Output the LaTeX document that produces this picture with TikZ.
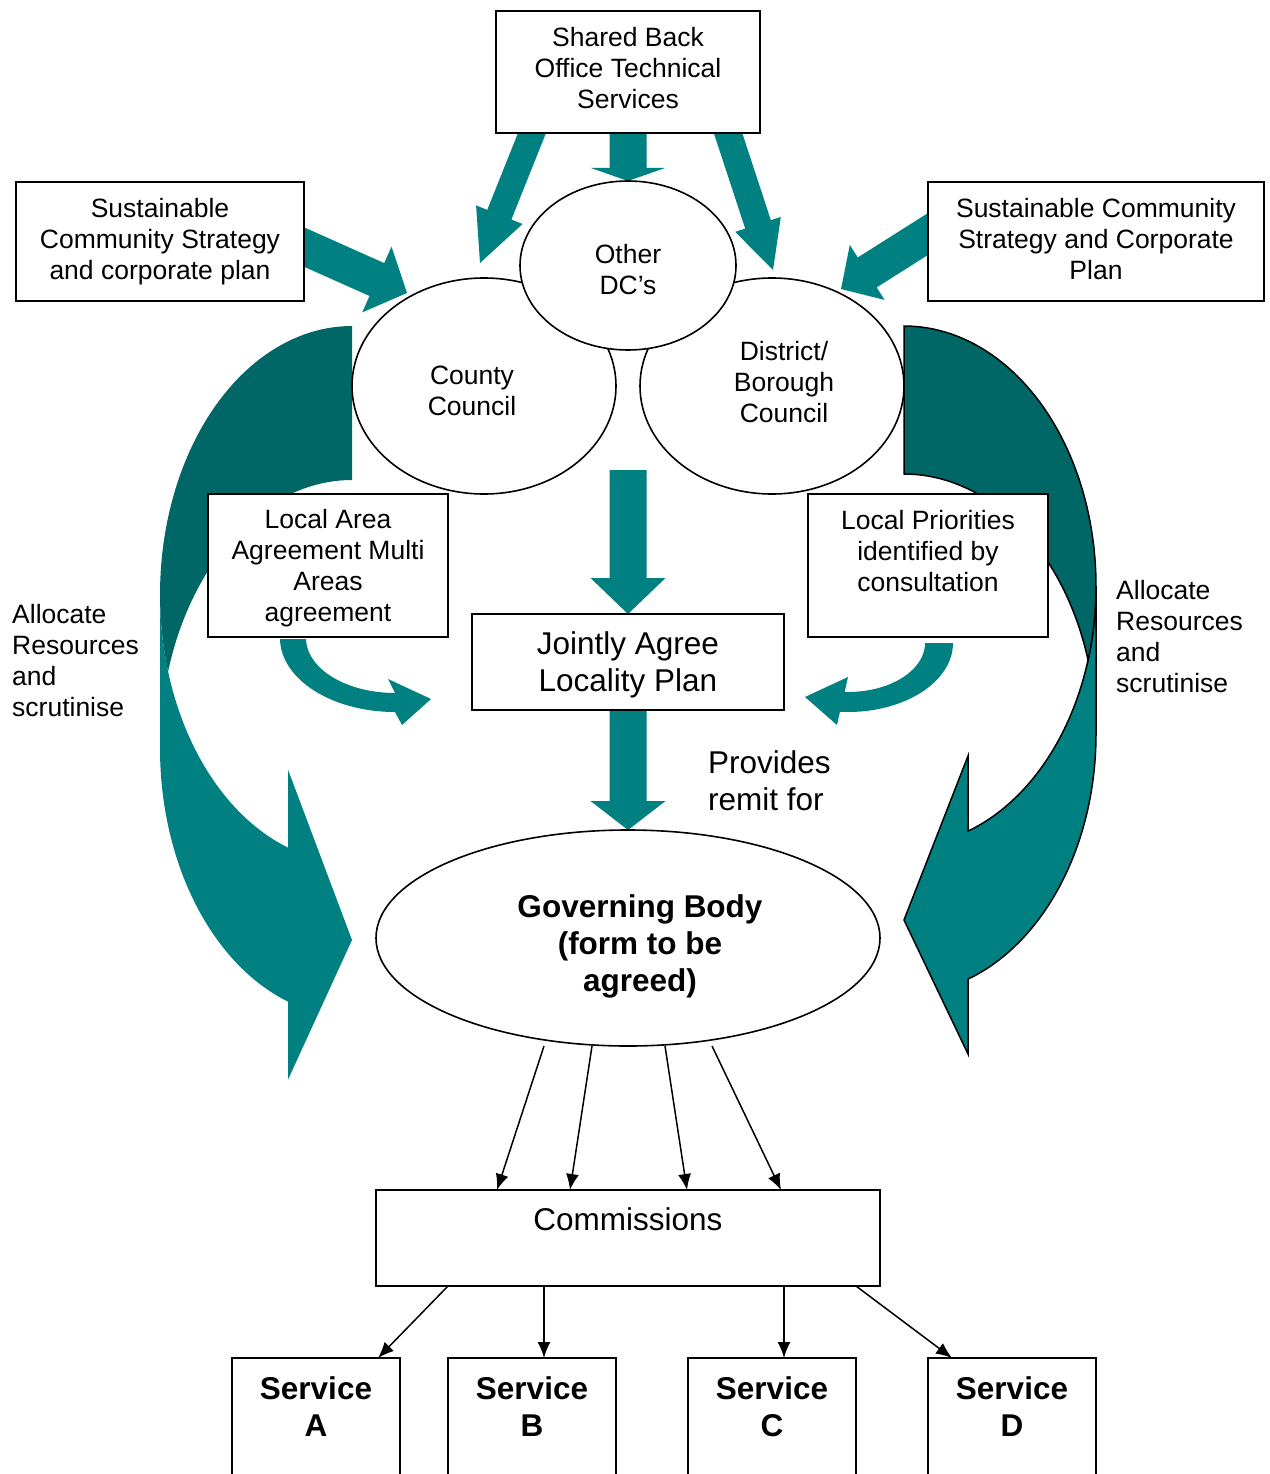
\documentclass[tikz,border=0pt]{standalone}
\usepackage{fontspec}
\setmainfont{Liberation Sans}
\usetikzlibrary{calc,arrows.meta,shapes.geometric}
\definecolor{tealA}{RGB}{0,128,128}
\definecolor{tealD}{RGB}{0,102,102}
\pgfdeclarelayer{bg}
\pgfsetlayers{bg,main}
% start, end, shaft half width, head half width, head length, back extension
\newcommand\blockarr[6]{%
  \coordinate (bas) at ($(#1)!-#6!(#2)$);
  \coordinate (bah) at ($(#2)!#5!(#1)$);
  \fill[tealA] ($(bas)!#3!90:(#2)$) -- ($(bah)!#3!90:(#2)$) -- ($(bah)!#4!90:(#2)$) -- (#2)
    -- ($(bah)!#4!-90:(#2)$) -- ($(bah)!#3!-90:(#2)$) -- ($(bas)!#3!-90:(#2)$) -- cycle;
}
\begin{document}
\begin{tikzpicture}[x=1pt,y=-1pt,
  box/.style={draw, line width=1.6pt, fill=white, inner sep=0pt, outer sep=0pt},
  ell/.style={draw, ellipse, line width=1.6pt, fill=white, inner sep=0pt, outer sep=0pt},
  txt/.style={align=center, inner sep=0pt, font=\fontsize{26.5}{31}\selectfont},
  txtL/.style={align=center, inner sep=0pt, font=\fontsize{31.5}{37}\selectfont},
  txtB/.style={align=center, inner sep=0pt, font=\fontsize{31.5}{37}\selectfont\bfseries},
  conn/.style={line width=1.5pt, -{Latex[length=16pt,width=13pt]}}]
\useasboundingbox (0,0) rectangle (1269,1474);

% ---------- nodes ----------
\node[box, minimum width=264pt, minimum height=122pt] (shared) at (628,72) {};
\node[txt] (sharedT) at (628,68) {Shared Back\\Office Technical\\Services};

\node[box, minimum width=288pt, minimum height=119pt] (scsL) at (160,241.5) {};
\node[txt] (scsLT) at (160,242) {Sustainable\\Community Strategy\\and corporate plan};

\node[box, minimum width=336pt, minimum height=119pt] (scsR) at (1096,241.5) {};
\node[txt] (scsRT) at (1096,239) {Sustainable Community\\Strategy and Corporate\\Plan};

\node[ell, minimum width=264pt, minimum height=216pt] (county) at (484,386) {};
\node[ell, minimum width=264pt, minimum height=216pt] (district) at (772,386) {};
\node[ell, minimum width=216pt, minimum height=169pt] (other) at (628,265.5) {};
\node[txt] (otherT) at (628,269.5) {Other\\DC’s};
\node[txt] (countyT) at (472,390.5) {County\\Council};
\node[txt] (districtT) at (784,382) {District/\\Borough\\Council};

\node[box, minimum width=240pt, minimum height=143pt] (laa) at (328,565.5) {};
\node[txt] (laaT) at (328,568.5) {Local Area\\Agreement Multi\\Areas\\agreement};

\node[box, minimum width=240pt, minimum height=143pt] (lp) at (928,565.5) {};
\node[txt] (lpT) at (928,551) {Local Priorities\\identified by\\consultation};

\node[box, minimum width=312pt, minimum height=96pt] (joint) at (628,662) {};
\node[txtL] (jointT) at (628,664.5) {Jointly Agree\\Locality Plan};

\node[ell, minimum width=504pt, minimum height=216pt] (gov) at (628,938) {};
\node[txtB] (govT) at (640,946.5) {Governing Body\\(form to be\\agreed)};

\node[txtL, align=left, anchor=west] (prov) at (708,780.5) {Provides\\remit for};
\node[txt, align=left, anchor=west] (allocL) at (12,661) {Allocate\\Resources\\and\\scrutinise};
\node[txt, align=left, anchor=west] (allocR) at (1116,637) {Allocate\\Resources\\and\\scrutinise};

\node[box, minimum width=504pt, minimum height=96pt] (comm) at (628,1238) {};
\node[txtL] (commT) at (628,1219) {Commissions};

\node[box, minimum width=168pt, minimum height=150pt, anchor=north] (sA) at (316,1358) {};
\node[box, minimum width=168pt, minimum height=150pt, anchor=north] (sB) at (532,1358) {};
\node[box, minimum width=168pt, minimum height=150pt, anchor=north] (sC) at (772,1358) {};
\node[box, minimum width=168pt, minimum height=150pt, anchor=north] (sD) at (1012,1358) {};
\node[txtB] (sAT) at (316,1406.5) {Service\\A};
\node[txtB] (sBT) at (532,1406.5) {Service\\B};
\node[txtB] (sCT) at (772,1406.5) {Service\\C};
\node[txtB] (sDT) at (1012,1406.5) {Service\\D};

% ---------- thin connectors ----------
\draw[conn] ($(gov.south)+(-84,0)$) -- ($(comm.north west)+(121,0)$);
\draw[conn] ($(gov.south)+(-36,0)$) -- ($(comm.north west)+(194,0)$);
\draw[conn] ($(gov.south)+(37,0)$) -- ($(comm.north west)+(311,0)$);
\draw[conn] ($(gov.south)+(84,0)$) -- ($(comm.north west)+(405,0)$);

\draw[conn] ($(comm.south west)+(72,0)$) -- ($(sA.north west)+(146,0)$);
\draw[conn] ($(comm.south west)+(168,0)$) -- ($(sB.north west)+(96,0)$);
\draw[conn] ($(comm.south west)+(408,0)$) -- ($(sC.north west)+(96,0)$);
\draw[conn] ($(comm.south west)+(480,0)$) -- ($(sD.north west)+(24,0)$);

% ---------- background shapes ----------
\begin{pgfonlayer}{bg}
% left big curved arrow (no outline)
\fill[tealA] (160,594.5)
  -- plot[domain=180:109.47,samples=60] ({352+192*cos(\x)},{594.5+268.5*sin(\x)})
  -- (288,769.6) -- (352,940) -- (288,1079.6) -- (288,1001.6)
  -- plot[domain=109.47:180,samples=60] ({352+192*cos(\x)},{748.5+268.5*sin(\x)})
  -- cycle;
\fill[tealD] (352,480)
  -- plot[domain=270:196.66,samples=60] ({352+192*cos(\x)},{748.5+268.5*sin(\x)})
  -- plot[domain=163.34:270,samples=60] ({352+192*cos(\x)},{594.5+268.5*sin(\x)})
  -- cycle;

% right big curved arrow (outlined)
\filldraw[fill=tealA, draw=black, line width=1.5pt] (1096,586)
  -- plot[domain=0:70.53,samples=60] ({904+192*cos(\x)},{586+260*sin(\x)})
  -- (968,756) -- (904,920) -- (968,1054) -- (968,979)
  -- plot[domain=70.53:0,samples=60] ({904+192*cos(\x)},{734+260*sin(\x)})
  -- cycle;
\filldraw[fill=tealD, draw=black, line width=1.5pt] (904,474)
  -- plot[domain=-90:-16.54,samples=60] ({904+192*cos(\x)},{734+260*sin(\x)})
  -- plot[domain=16.54:-90,samples=60] ({904+192*cos(\x)},{586+260*sin(\x)})
  -- cycle;

% small curved arrows
\fill[tealA] (280,639) -- (306,639)
  -- plot[domain=180:90,samples=40] ({395+89*cos(\x)},{638+55*sin(\x)})
  -- (388,679) -- (431,699) -- (402,725) -- (395,712)
  -- plot[domain=90:180,samples=40] ({395+115*cos(\x)},{638+74*sin(\x)})
  -- cycle;
\fill[tealA] (925,643) -- (953,643)
  -- plot[domain=0:94.4,samples=40] ({848+105*cos(\x)},{643+69*sin(\x)})
  -- (837,725) -- (805,697) -- (848,677)
  -- plot[domain=92.5:0,samples=40] ({848+77*cos(\x)},{643+49*sin(\x)})
  -- cycle;

% straight block arrows
\coordinate (d1s) at ($(shared.south west)+(36,0)$);
\coordinate (d1e) at (480,263);
\coordinate (d2s) at ($(shared.south east)+(-32,0)$);
\coordinate (d2e) at (773,270);
\coordinate (d3s) at ($(scsL.east)+(0,5.5)$);
\coordinate (d3e) at (407,293);
\coordinate (d4s) at ($(scsR.west)+(0,-7.5)$);
\coordinate (d4e) at (841,289);
\coordinate (d5s) at (628,470);

\blockarr{shared.south}{other.north}{18.5pt}{37pt}{13pt}{10pt}
\blockarr{d1s}{d1e}{13pt}{25pt}{52pt}{12pt}
\blockarr{d2s}{d2e}{13.5pt}{24pt}{48pt}{12pt}
\blockarr{d3s}{d3e}{18pt}{36pt}{33pt}{12pt}
\blockarr{d4s}{d4e}{17.7pt}{32.5pt}{31pt}{12pt}
\blockarr{d5s}{joint.north}{18.5pt}{37.5pt}{36pt}{0pt}
\blockarr{joint.south}{gov.north}{18.5pt}{37.5pt}{29pt}{10pt}
\end{pgfonlayer}
\end{tikzpicture}
\end{document}
